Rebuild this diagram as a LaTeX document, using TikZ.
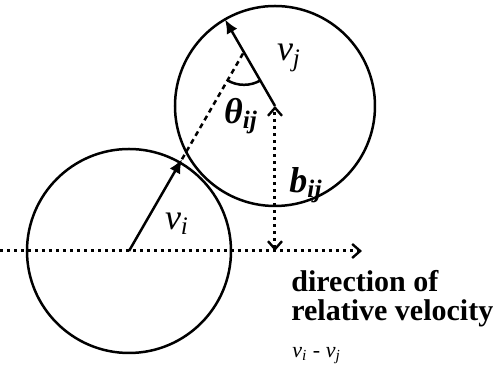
\documentclass[tikz,border=0pt]{standalone}
\usepackage{fontspec}
\setmainfont{Liberation Serif}
\usetikzlibrary{arrows.meta}

\begin{document}
\begin{tikzpicture}[x=0.5pt,y=0.5pt,
    >={Straight Barb[length=4pt,width=7pt,line width=1.2pt]},
    ball/.style={line width=1.25pt},
    vel/.style={line width=1.25pt,-{Latex[length=7pt,width=6pt]}},
    dotline/.style={line width=1.5pt,dash pattern=on 1.5pt off 2pt},
    dashline/.style={line width=1.25pt,dash pattern=on 2.5pt off 2pt},
    lbl/.style={font=\fontsize{18}{18}\selectfont\itshape},
    blbl/.style={font=\fontsize{18}{18}\selectfont\bfseries\itshape}]
        \useasboundingbox (0,0) rectangle (495,374);
        \coordinate (ci) at (129,123);
        \coordinate (cj) at (275,268);
        \coordinate (axL) at (0,123);
        \coordinate (axR) at (362,123);
        \coordinate (foot) at (cj |- ci);
        \coordinate (vi) at ([shift={(60:106)}]ci);
        \coordinate (meet) at ([shift={(60:230)}]ci);
        \coordinate (vj) at ([shift={(120:100)}]cj);
        \coordinate (arcA) at ([shift={(240:33)}]meet);
        \draw[ball] (ci) circle (102);
        \draw[ball] (cj) circle (100);
        \draw[dotline,->] (axL) -- (axR);
        \draw[dotline,<->] (foot) -- (cj);
        \draw[vel] (ci) -- (vi);
        \draw[dashline] (vi) -- (meet);
        \draw[vel] (cj) -- (vj);
        \draw[ball] (arcA) arc[start angle=240,end angle=300,radius=33];
        \node[lbl] (lvj) at (289,316) {v\textsubscript{j}};
        \node[blbl] (lth) at (241,258) {θ\textsubscript{ij}};
        \node[blbl] (lb) at (306,189) {b\textsubscript{ij}};
        \node[lbl] (lvi) at (177,150) {v\textsubscript{i}};
        \node[font=\fontsize{15}{14.5}\selectfont\bfseries,align=left,anchor=north west,inner sep=0pt] (dir) at (291,104) {direction of\\relative velocity};
        \node[font=\fontsize{11}{11}\selectfont\itshape,anchor=north west,inner sep=0pt] (rel) at (292,27) {v\textsubscript{i} - v\textsubscript{j}};
      \end{tikzpicture}
\end{document}
